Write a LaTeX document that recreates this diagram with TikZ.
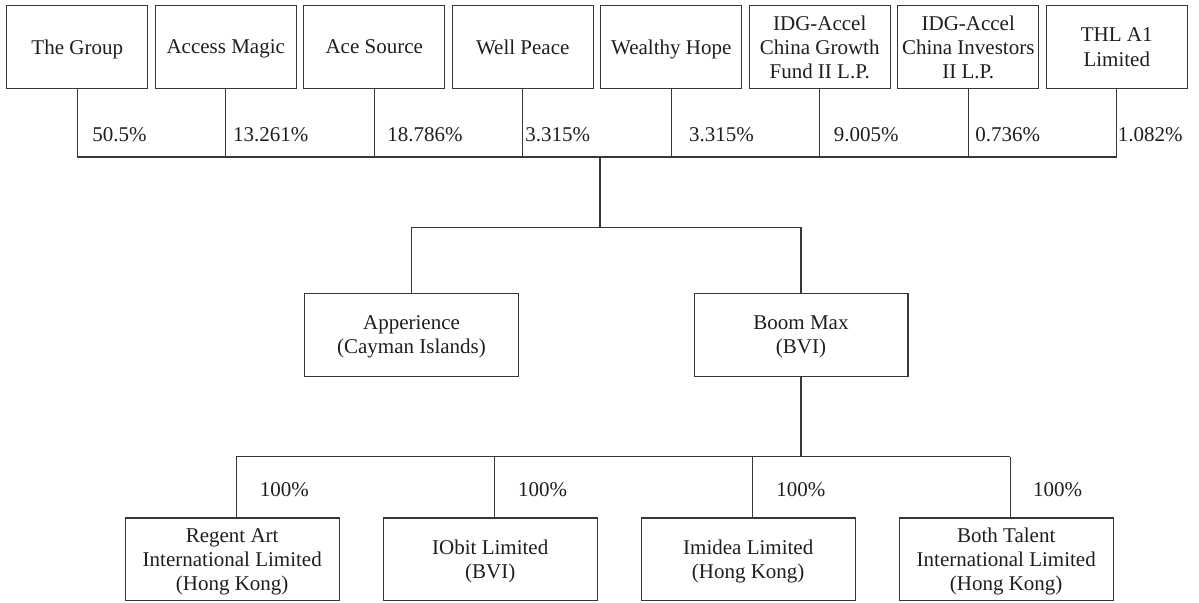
\documentclass[tikz,border=0pt]{standalone}
\usepackage{fontspec}
\setmainfont{Liberation Serif}
\usepackage{tikz}
\usetikzlibrary{positioning}
\definecolor{linegray}{RGB}{55,55,55}
\definecolor{textgray}{RGB}{30,30,30}

\begin{document}
\begin{tikzpicture}[
    x=0.5pt, y=-0.5pt,
    node distance=3.25pt,
    holder/.style={draw=linegray, line width=0.6pt, minimum width=70.4pt,
                   minimum height=41.4pt, inner sep=1pt, align=center,
                   text=textgray, font=\fontsize{10.5}{12.1}\selectfont,
                   text depth=-1.4pt},
    entity/.style={holder, minimum width=106.9pt},
    pct/.style={anchor=west, inner sep=0pt, text=textgray,
                font=\fontsize{10.5}{12.1}\selectfont},
    link/.style={draw=linegray, line width=0.6pt},
]
    \useasboundingbox (0,0) rectangle (1199,602);

    \node[holder] (s1) at (77.25,47) {The Group};
    \node[holder, right=of s1] (s2) {Access Magic};
    \node[holder, right=of s2] (s3) {Ace Source};
    \node[holder, right=of s3] (s4) {Well Peace};
    \node[holder, right=of s4] (s5) {Wealthy Hope};
    \node[holder, right=of s5] (s6) {IDG-Accel\\China Growth\\Fund II L.P.};
    \node[holder, right=of s6] (s7) {IDG-Accel\\China Investors\\II L.P.};
    \node[holder, right=of s7] (s8) {THL A1\\Limited};

    \node[entity] (app) at (411.5,334.7) {Apperience\\(Cayman Islands)};
    \node[entity] (boom) at (801,334.7) {Boom Max\\(BVI)};

    \node[entity] (c1) at (232.2,559.3) {Regent Art\\International Limited\\(Hong Kong)};
    \node[entity, right=21.5pt of c1] (c2) {IObit Limited\\(BVI)};
    \node[entity, right=21.5pt of c2] (c3) {Imidea Limited\\(Hong Kong)};
    \node[entity, right=21.5pt of c3] (c4) {Both Talent\\International Limited\\(Hong Kong)};

    \coordinate (topbus) at (600,157);
    \coordinate (midbus) at (600,227.7);
    \coordinate (lowbus) at (801,456.7);

    \foreach \i in {1,...,8}
        \draw[link] (s\i.south) -- (s\i.south |- topbus);
    \draw[link] (s1.south |- topbus) -- (s8.south |- topbus);
    \draw[link] (topbus) -- (midbus);
    \draw[link] (app.north) -- (app.north |- midbus) -- (boom.north |- midbus) -- (boom.north);
    \draw[link] (boom.south) -- (lowbus);
    \foreach \i in {1,...,4}
        \draw[link] ([xshift=2pt]c\i.north) -- ([xshift=2pt]c\i.north |- lowbus);
    \draw[link] ([xshift=2pt]c1.north |- lowbus) -- ([xshift=2pt]c4.north |- lowbus);

    \node[pct] (p1) at (92,135) {50.5\%};
    \node[pct] (p2) at (232.7,135) {13.261\%};
    \node[pct] (p3) at (387,135) {18.786\%};
    \node[pct] (p4) at (525,135) {3.315\%};
    \node[pct] (p5) at (688.8,135) {3.315\%};
    \node[pct] (p6) at (833.5,135) {9.005\%};
    \node[pct] (p7) at (975,135) {0.736\%};
    \node[pct] (p8) at (1117.4,135) {1.082\%};

    \node[pct] (q1) at (259.4,490) {100\%};
    \node[pct] (q2) at (517.7,490) {100\%};
    \node[pct] (q3) at (776,490) {100\%};
    \node[pct] (q4) at (1032.7,490) {100\%};
\end{tikzpicture}
\end{document}
